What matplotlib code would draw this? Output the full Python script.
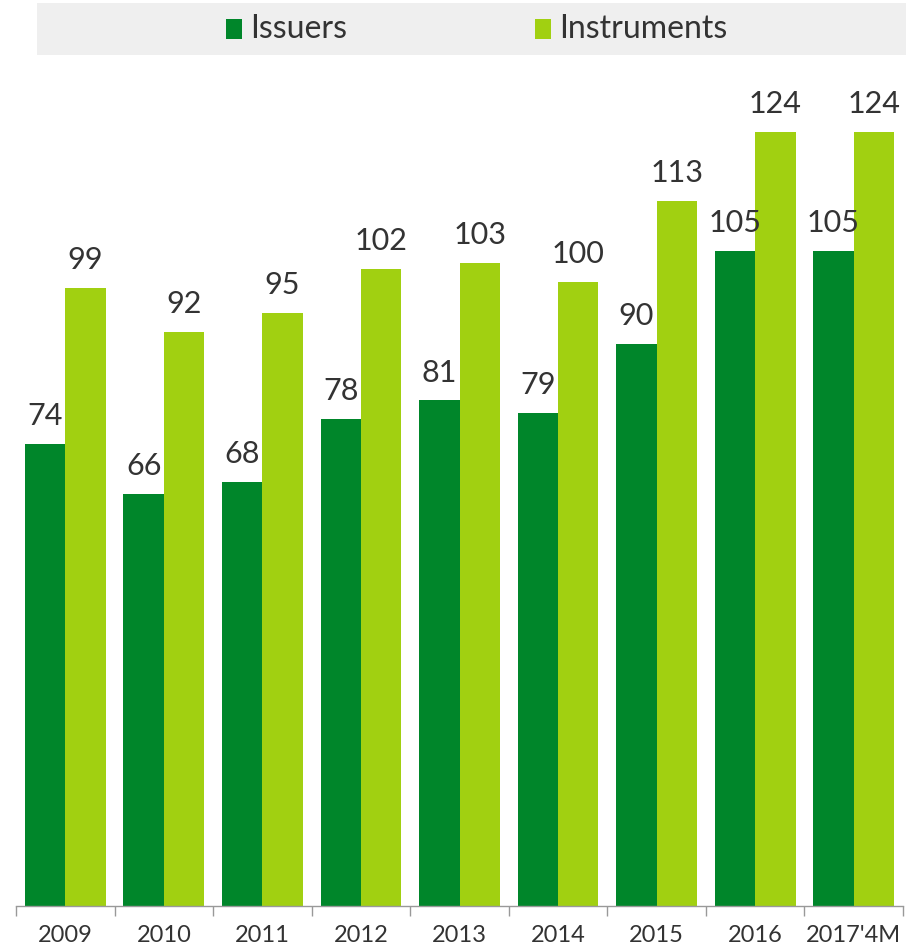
import matplotlib
matplotlib.use("Agg")
import matplotlib.pyplot as plt
from matplotlib.patches import Rectangle
import numpy as np

categories = ["2009", "2010", "2011", "2012", "2013", "2014", "2015", "2016", "2017'4M"]
issuers = [74, 66, 68, 78, 81, 79, 90, 105, 105]
instruments = [99, 92, 95, 102, 103, 100, 113, 124, 124]

c_iss = "#00862A"
c_ins = "#A1D011"
txt = "#333333"
plt.rcParams['font.family'] = ['Lato', 'DejaVu Sans']
FW = "normal"

W, H = 906, 950
fig = plt.figure(figsize=(W/100, H/100), dpi=100)
ax = fig.add_axes([16/W, (H-906)/H, (903-16)/W, (906-60)/H])

x = np.arange(len(categories))
bw = 0.41
ax.bar(x - bw/2, issuers, bw, color=c_iss, label="Issuers")
ax.bar(x + bw/2, instruments, bw, color=c_ins, label="Instruments")

for xi, v in zip(x - bw/2, issuers):
    ax.annotate(str(v), (xi, v), xytext=(0, 10), textcoords="offset points",
                ha="center", va="bottom", fontsize=22, color=txt, fontweight=FW)
for xi, v in zip(x + bw/2, instruments):
    ax.annotate(str(v), (xi, v), xytext=(0, 10), textcoords="offset points",
                ha="center", va="bottom", fontsize=22, color=txt, fontweight=FW)

ax.set_xlim(-0.5, len(categories) - 0.5)
ax.set_ylim(0, 846 / (774 / 124))
ax.set_yticks([])
ax.set_xticks(np.arange(len(categories) + 1) - 0.5, minor=False)
ax.set_xticklabels([])
ax.tick_params(axis='x', which='major', length=7, color="#999999", width=1)
ax.set_xticks(x, minor=True)
ax.set_xticklabels(categories, minor=True, fontsize=17, color=txt, fontweight=FW)
ax.tick_params(axis='x', which='minor', length=0, pad=14)
for s in ["top", "right", "left"]:
    ax.spines[s].set_visible(False)
ax.spines["bottom"].set_color("#999999")
ax.spines["bottom"].set_linewidth(1)

# legend band
fig.patches.append(Rectangle((37/W, (H-55)/H), (906-37)/W, 52/H, transform=fig.transFigure,
                             facecolor="#EFEFEF", edgecolor="none", zorder=0))
fig.patches.append(Rectangle((226/W, (H-39)/H), 16/W, 20/H, transform=fig.transFigure,
                             facecolor=c_iss, edgecolor="none"))
fig.text(250/W, (H-29)/H, "Issuers", fontsize=23, color=txt, va="center", ha="left", fontweight=FW)
fig.patches.append(Rectangle((535/W, (H-39)/H), 16/W, 20/H, transform=fig.transFigure,
                             facecolor=c_ins, edgecolor="none"))
fig.text(559/W, (H-29)/H, "Instruments", fontsize=23, color=txt, va="center", ha="left", fontweight=FW)

fig.savefig("out.png", dpi=100)
